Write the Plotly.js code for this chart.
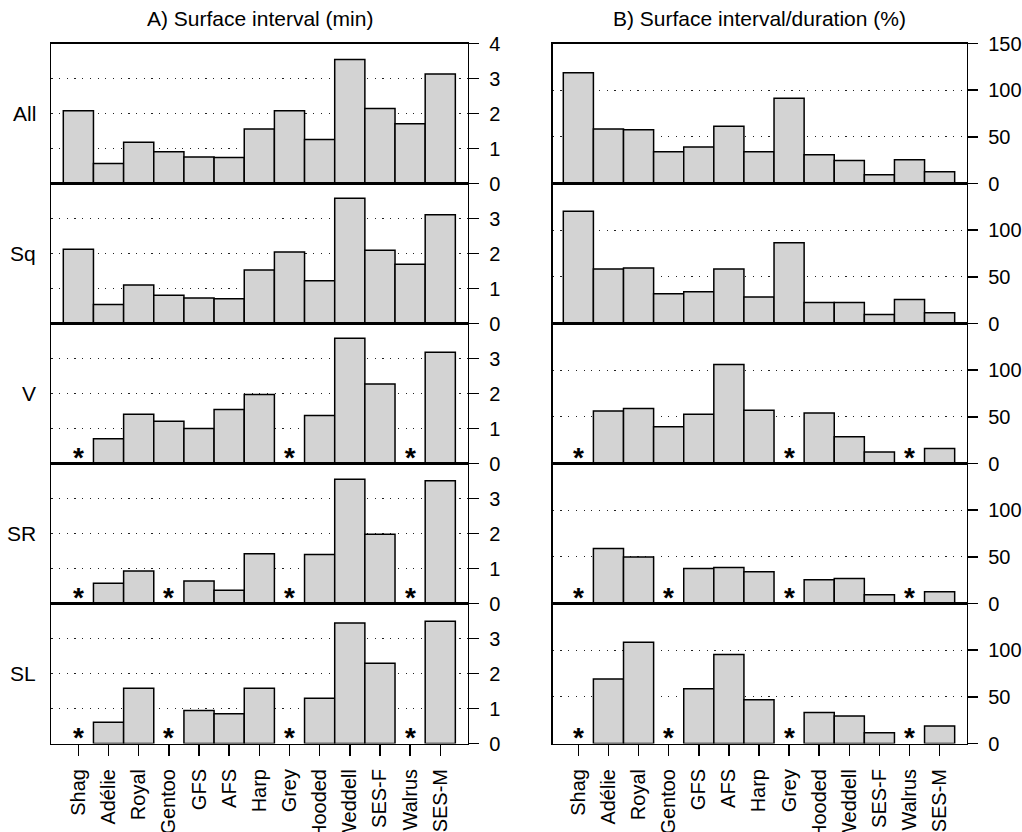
<!DOCTYPE html>
<html>
<head>
<meta charset="utf-8">
<script src="https://cdn.plot.ly/plotly-3.0.1.min.js"></script>
<style>html,body{margin:0;padding:0;background:#fff;}#chart{width:1022px;height:832px;}</style>
</head>
<body>
<div id="chart"></div>
<script>
// ---- data ----
var categories = ['Shag','Adélie','Royal','Gentoo','GFS','AFS','Harp','Grey','Hooded','Weddell','SES-F','Walrus','SES-M'];
var rowLabels = ['All','Sq','V','SR','SL'];
var panelTitles = ['A) Surface interval (min)','B) Surface interval/duration (%)'];

var intervalAll = [2.08,0.57,1.18,0.91,0.76,0.74,1.56,2.08,1.26,3.54,2.14,1.71,3.13];
var intervalSq  = [2.12,0.54,1.10,0.81,0.73,0.71,1.53,2.04,1.22,3.58,2.09,1.69,3.11];
var intervalV   = [null,0.71,1.41,1.21,1.00,1.54,1.97,null,1.37,3.58,2.27,null,3.18];
var intervalSR  = [null,0.58,0.93,null,0.64,0.38,1.42,null,1.40,3.55,1.98,null,3.51];
var intervalSL  = [null,0.61,1.58,null,0.94,0.85,1.58,null,1.29,3.44,2.29,null,3.49];

var ratioAll = [118.6,58.4,57.7,34.0,39.0,61.3,34.0,91.4,30.8,24.7,9.3,25.4,12.5];
var ratioSq  = [120.4,58.4,59.5,31.9,34.0,58.4,28.3,86.4,22.6,22.6,9.7,25.8,11.5];
var ratioV   = [null,56.3,58.8,39.4,52.7,106.0,57.0,null,54.1,28.7,12.2,null,16.1];
var ratioSR  = [null,58.8,49.8,null,37.6,38.7,34.0,null,25.4,26.9,9.3,null,12.5];
var ratioSL  = [null,69.0,108.6,null,58.6,95.3,46.8,null,33.1,29.5,11.5,null,18.7];

var intervalTicks = [0,1,2,3,4];
var ratioTicks = [0,50,100,150];

var series = [
  [intervalAll, ratioAll],
  [intervalSq, ratioSq],
  [intervalV, ratioV],
  [intervalSR, ratioSR],
  [intervalSL, ratioSL]
];

// ---- layout geometry (pixels) ----
var W = 1022, H = 832;
var colX = [[51.3, 467.7], [552.7, 966.7]];
var top0 = 43.5, rowH = 140;
var xRanges = [[-0.898, 12.91], [-0.852, 12.9]];
var yRanges = [[0, 4], [0, 150]];
var FONT = 'Liberation Sans, Arial, Helvetica, sans-serif';

var traces = [];
var layout = {
  width: W, height: H,
  margin: {l:0, r:0, t:0, b:0},
  paper_bgcolor: '#fff', plot_bgcolor: 'rgba(0,0,0,0)',
  showlegend: false,
  bargap: 0,
  font: {family: FONT, size: 20, color: '#000'},
  annotations: []
};

for (var r = 0; r < 5; r++) {
  for (var c = 0; c < 2; c++) {
    var k = r * 2 + c + 1;
    var xa = 'xaxis' + (k === 1 ? '' : k);
    var ya = 'yaxis' + (k === 1 ? '' : k);
    var xr = 'x' + (k === 1 ? '' : k);
    var yr = 'y' + (k === 1 ? '' : k);
    var yTop = top0 + r * rowH, yBot = yTop + rowH;
    var vals = series[r][c];
    traces.push({
      type: 'bar', x: categories, y: vals, xaxis: xr, yaxis: yr,
      marker: {color: '#d3d3d3', line: {color: '#000', width: 1.5}},
      hoverinfo: 'skip'
    });
    var isBottom = (r === 4);
    layout[xa] = {
      domain: [colX[c][0] / W, colX[c][1] / W],
      anchor: yr,
      type: 'category',
      range: xRanges[c],
      showline: true, mirror: true, linecolor: '#000', linewidth: 1.5,
      showgrid: false, zeroline: false,
      ticks: isBottom ? 'outside' : '',
      ticklen: 11, tickwidth: 1.5, tickcolor: '#000',
      showticklabels: isBottom,
      tickangle: -90,
      tickfont: {family: FONT, size: 20, color: '#000'},
      ticklabelstandoff: 5,
      fixedrange: true
    };
    var allTicks = c === 0 ? intervalTicks : ratioTicks;
    var tv = r === 0 ? allTicks : allTicks.slice(0, allTicks.length - 1);
    layout[ya] = {
      domain: [1 - yBot / H, 1 - yTop / H],
      anchor: xr,
      side: 'right',
      range: yRanges[c],
      tickmode: 'array', tickvals: tv, ticktext: tv.map(String),
      ticks: 'outside', ticklen: 10, tickwidth: 1.5, tickcolor: '#000',
      showline: true, mirror: true, linecolor: '#000', linewidth: 1.5,
      showgrid: true, gridcolor: '#222', gridwidth: 1, griddash: '1.2px,6.5px',
      zeroline: false,
      tickfont: {family: FONT, size: 20, color: '#000'},
      ticklabelstandoff: 6,
      fixedrange: true
    };
    // asterisks for missing values
    for (var i = 0; i < categories.length; i++) {
      if (vals[i] === null) {
        layout.annotations.push({
          xref: xr, yref: yr, x: categories[i], y: 0,
          text: '<b>*</b>', showarrow: false,
          xanchor: 'center', yanchor: 'bottom', yshift: -11,
          font: {family: FONT, size: 28, color: '#000'}
        });
      }
    }
  }
  // row label
  layout.annotations.push({
    xref: 'paper', yref: 'paper', x: 38 / W, y: 1 - (top0 + r * rowH + rowH / 2) / H,
    xanchor: 'right', yanchor: 'middle', text: rowLabels[r], showarrow: false,
    font: {family: FONT, size: 21, color: '#000'}
  });
}
// column titles
for (var c2 = 0; c2 < 2; c2++) {
  layout.annotations.push({
    xref: 'paper', yref: 'paper',
    x: ((colX[c2][0] + colX[c2][1]) / 2) / W, y: 1 - 18 / H,
    xanchor: 'center', yanchor: 'middle', text: panelTitles[c2], showarrow: false,
    font: {family: FONT, size: 21, color: '#000'}
  });
}

Plotly.newPlot('chart', traces, layout, {staticPlot: true, displayModeBar: false});
</script>
</body>
</html>
